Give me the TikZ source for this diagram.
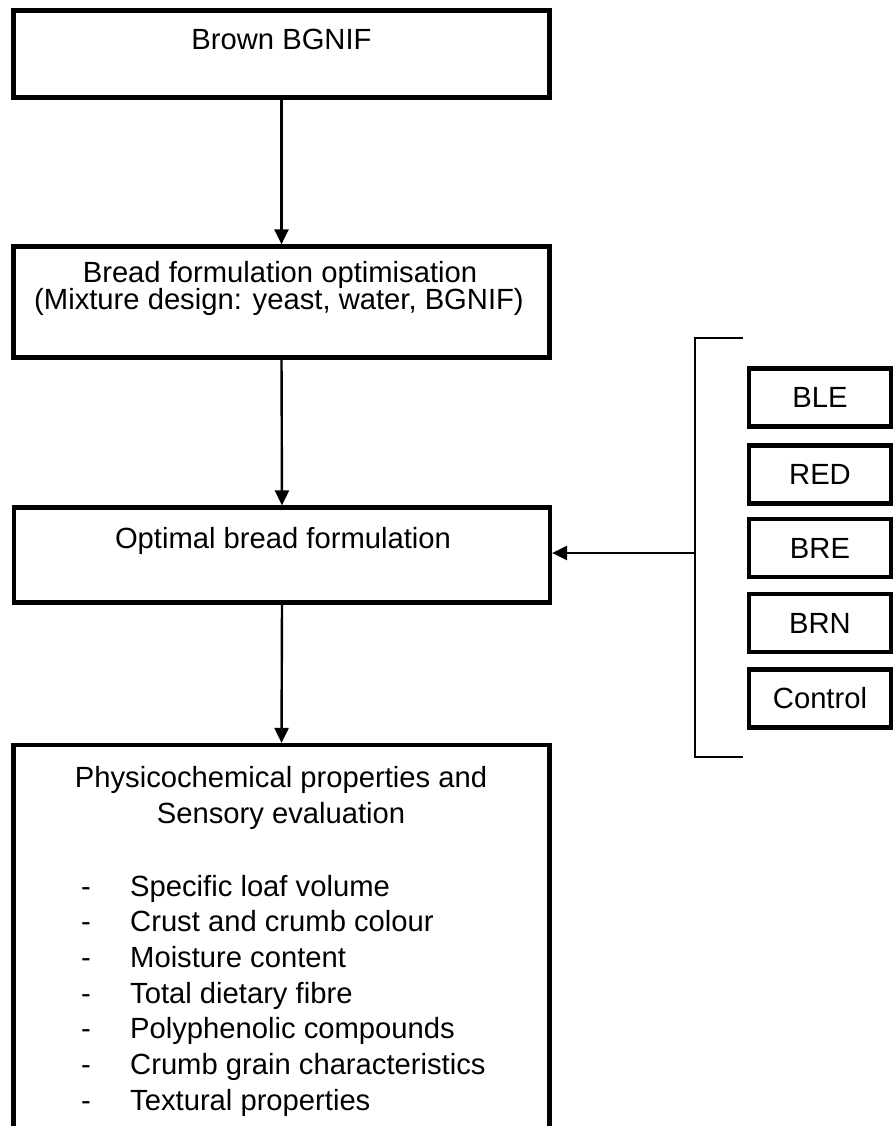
\documentclass[tikz,border=0pt]{standalone}
\usepackage{fontspec}
\setmainfont{Liberation Sans}
\usetikzlibrary{arrows.meta}
\begin{document}
\begin{tikzpicture}[x=1pt,y=-1pt,
  every node/.style={font=\fontsize{29.2}{30}\selectfont},
  bigbox/.style={draw, line width=4.2pt, inner sep=0pt, outer sep=0pt, anchor=north west, minimum width=536pt},
  smallbox/.style={draw, line width=4.2pt, inner sep=0pt, outer sep=0pt, minimum width=142pt, minimum height=58pt, text height=20.9pt, text depth=0pt},
  txt/.style={anchor=base, inner sep=0pt},
  arr/.style={line width=2.4pt, -{Triangle[length=15pt,width=14pt]}, shorten >=2.1pt},
  brk/.style={line width=2.4pt}]
\clip (0,0) rectangle (894,1126);
\fill[white] (0,0) rectangle (894,1126);

% main column
\node[bigbox, minimum height=87pt] (b1) at (13.5,10.5) {};
\node[txt] (t1) at (281.5,50) {Brown BGNIF};

\node[bigbox, minimum height=111pt] (b2) at (13.5,246.5) {};
\node[txt] (t2a) at (280,282) {Bread formulation optimisation};
\node[txt] (t2b) at (279,309) {(Mixture design: yeast, water, BGNIF)};

\node[bigbox, minimum height=95pt] (b3) at (14,507.5) {};
\node[txt] (t3) at (283,548) {Optimal bread formulation};

\node[bigbox, minimum height=420pt] (b4) at (13.5,745) {};
\node[txt] (t4a) at (281,787) {Physicochemical properties and};
\node[txt] (t4b) at (281,823) {Sensory evaluation};
\foreach \lbl [count=\i from 0] in {Specific loaf volume, Crust and crumb colour, Moisture content, Total dietary fibre, Polyphenolic compounds, Crumb grain characteristics, Textural properties}{
  \node[txt] (d\i) at (86,896+35.7*\i) {-};
  \node[txt, anchor=base west] (it\i) at (130,896+35.7*\i) {\lbl};
}

% arrows down the column
\draw[arr] (b1.south) -- (b2.north);
\draw[arr] (b2.south) -- (b3.north);
\draw[arr] (b3.south) -- (b4.north);

% treatments on the right
\node[smallbox] (s1) at (820,397.5) {BLE};
\node[smallbox] (s2) at (820,474.5) {RED};
\node[smallbox] (s3) at (820,548) {BRE};
\node[smallbox] (s4) at (820,623) {BRN};
\node[smallbox] (s5) at (820,698.5) {Control};

% bracket grouping the treatments
\coordinate (bt) at (743,338);
\coordinate (bb) at (743,757);
\coordinate (bm) at (695,553);
\draw[brk] (bt) -- (695,338) -- (695,757) -- (bb);
\draw[arr] (bm) -- (bm -| b3.east);
\end{tikzpicture}
\end{document}
